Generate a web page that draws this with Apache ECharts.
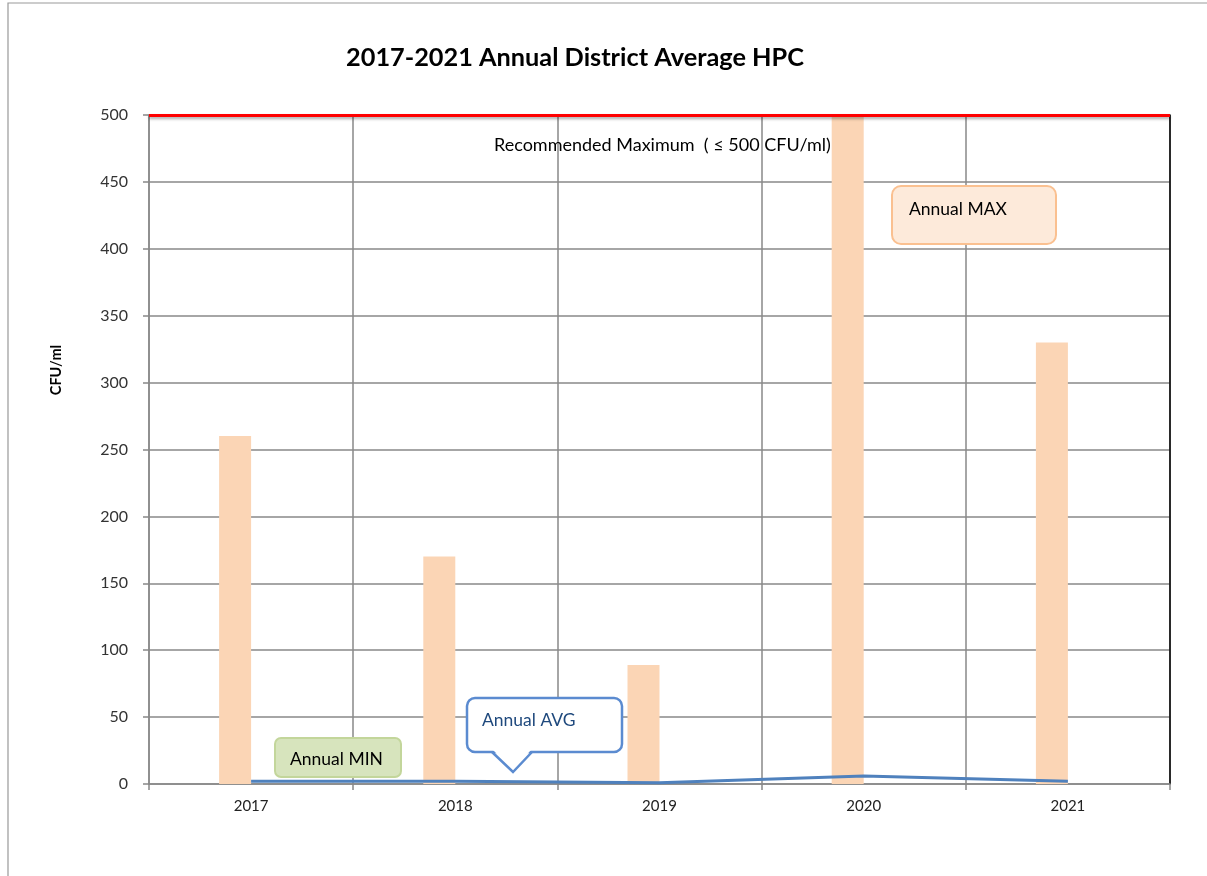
<!DOCTYPE html>
<html><head><meta charset="utf-8">
<script src="https://cdn.jsdelivr.net/npm/echarts@6/dist/echarts.min.js"></script>
<style>html,body{margin:0;padding:0;background:#fff}#c{width:1207px;height:876px}</style>
</head><body><div id="c"></div>
<script>
const years = ['2017','2018','2019','2020','2021'];
const annualMax = [260, 170, 89, 500, 330];
const annualMin = [0, 0, 0, 0, 0];
const annualAvg = [2, 2, 1, 6, 2];
const yTicks = [0, 50, 100, 150, 200, 250, 300, 350, 400, 450, 500];
const recommendedMax = 500;

const FONT = 'Lato';
const chart = echarts.init(document.getElementById('c'));
chart.setOption({
  animation: false,
  backgroundColor: '#fff',
  textStyle: { fontFamily: FONT },
  title: {
    text: '2017-2021 Annual District Average HPC',
    left: 570, top: 40, textAlign: 'center',
    textStyle: { fontFamily: FONT, fontWeight: 'bold', fontSize: 25.3, color: '#000' }
  },
  grid: { left: 149, right: 37, top: 115, bottom: 92, containLabel: false },
  xAxis: {
    type: 'category', data: years, boundaryGap: true,
    axisLine: { lineStyle: { color: '#888', width: 1.5 } },
    axisTick: { show: true, length: 6, lineStyle: { color: '#888', width: 1.5 } },
    axisLabel: { fontSize: 15, color: '#222', margin: 15, fontFamily: FONT },
    splitLine: { show: true, lineStyle: { color: '#888', width: 1.5 } }
  },
  yAxis: [{
    type: 'value', min: 0, max: 500, interval: 50,
    axisLine: { show: true, lineStyle: { color: '#888', width: 1.5 } },
    axisTick: { show: true, length: 6, lineStyle: { color: '#888', width: 1.5 } },
    axisLabel: { fontSize: 16, color: '#333', margin: 21, fontFamily: FONT,
      formatter: v => yTicks.includes(v) ? String(v) : '' },
    splitLine: { show: true, lineStyle: { color: '#888', width: 1.5 } }
  }, {
    type: 'value', min: 0, max: 500, position: 'right',
    axisLine: { show: true, lineStyle: { color: '#000', width: 1.5 } },
    axisTick: { show: false }, axisLabel: { show: false }, splitLine: { show: false }
  }],
  series: [{
    name: 'Annual MAX', type: 'bar', data: annualMax, barWidth: 32, barGap: '0%',
    itemStyle: { color: '#FBD5B5' }, z: 2,
    markLine: {
      silent: true, symbol: 'none', label: { show: false },
      lineStyle: { color: '#FF0000', width: 3, type: 'solid',
        shadowColor: 'rgba(0,0,0,0.35)', shadowBlur: 3, shadowOffsetY: 2 },
      data: [{ yAxis: recommendedMax }]
    }
  }, {
    name: 'Annual MIN', type: 'bar', data: annualMin, barWidth: 32,
    itemStyle: { color: '#9BBB59' }, z: 2
  }, {
    name: 'Annual AVG', type: 'line', data: annualAvg, symbol: 'none',
    lineStyle: { color: '#4F81BD', width: 3 }, z: 5
  }],
  graphic: [
    { type: 'rect', shape: { x: 8, y: 3, width: 1210, height: 900 }, style: { fill: 'none', stroke: '#999', lineWidth: 1.2 }, z: -10, silent: true },
    { type: 'text', x: 56, y: 370, rotation: Math.PI / 2, style: { text: 'CFU/ml', fontSize: 14.5, fontWeight: 'bold', fontFamily: FONT, fill: '#000', align: 'center', verticalAlign: 'middle' }, z: 20 },
    { type: 'text', x: 494, y: 145, style: { text: 'Recommended Maximum  ( \u2264 500 CFU/ml)', fontSize: 18, fontFamily: FONT, fill: '#000', verticalAlign: 'middle' }, z: 20 },
    { type: 'rect', shape: { x: 892, y: 186, width: 164, height: 58, r: 9 }, style: { fill: '#FDEADA', stroke: '#FAC090', lineWidth: 2 }, z: 20 },
    { type: 'text', x: 909, y: 209, style: { text: 'Annual MAX', fontSize: 17.5, fontFamily: FONT, fill: '#000', verticalAlign: 'middle' }, z: 21 },
    { type: 'rect', shape: { x: 275, y: 738, width: 126, height: 39, r: 6 }, style: { fill: '#D7E4BD', stroke: '#C3D69B', lineWidth: 2 }, z: 20 },
    { type: 'text', x: 290, y: 759, style: { text: 'Annual MIN', fontSize: 17.5, fontFamily: FONT, fill: '#000', verticalAlign: 'middle' }, z: 21 },
    { type: 'rect', shape: { x: 467, y: 698, width: 155, height: 54, r: 8 }, style: { fill: '#fff', stroke: '#5B8BD0', lineWidth: 2.5 }, z: 20 },
    { type: 'polygon', shape: { points: [[493, 750], [531, 750], [513, 770]] }, style: { fill: '#fff', stroke: 'none' }, z: 21 },
    { type: 'polyline', shape: { points: [[492, 752], [513, 772], [532, 752]] }, style: { stroke: '#5B8BD0', lineWidth: 2.5, fill: 'none' }, z: 22 },
    { type: 'text', x: 482, y: 720, style: { text: 'Annual AVG', fontSize: 17.5, fontFamily: FONT, fill: '#1F497D', verticalAlign: 'middle' }, z: 23 }
  ]
});
</script></body></html>
